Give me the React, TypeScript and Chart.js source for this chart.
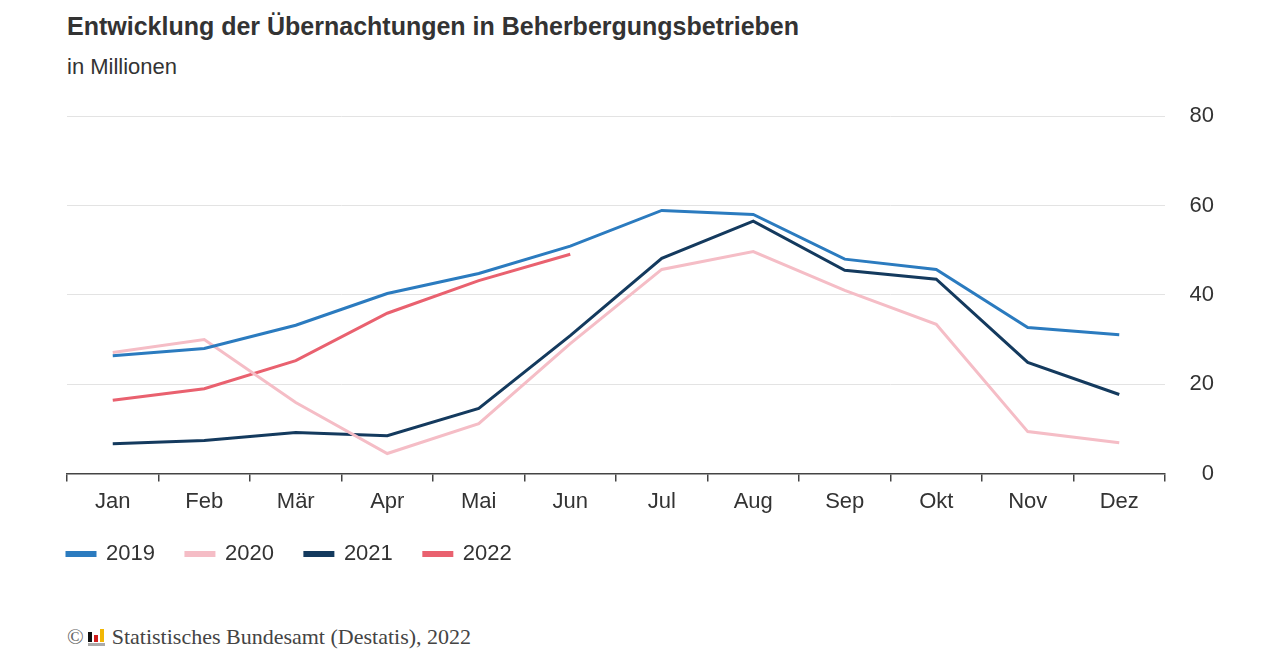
import React, { useEffect, useRef } from "react";
import { Chart, registerables } from "chart.js";

Chart.register(...registerables);

const months = ["Jan", "Feb", "Mär", "Apr", "Mai", "Jun", "Jul", "Aug", "Sep", "Okt", "Nov", "Dez"];
const v2019 = [26.4, 28.0, 33.2, 40.3, 44.8, 50.9, 58.9, 58.0, 48.0, 45.7, 32.7, 31.1];
const v2020 = [27.1, 30.0, 15.9, 4.5, 11.2, 29.1, 45.7, 49.7, 41.0, 33.4, 9.4, 6.9];
const v2021 = [6.7, 7.4, 9.2, 8.5, 14.6, 30.9, 48.2, 56.5, 45.5, 43.5, 24.9, 17.7];
const v2022 = [16.4, 19.0, 25.3, 35.9, 43.2, 49.1];
const yTicks = [0, 20, 40, 60, 80];

const FONT = "'Liberation Sans', Arial, Helvetica, sans-serif";
const TEXT = "#333333";

const legendShift = {
  id: "legendShift",
  afterLayout(chart: any) {
    const lg = chart.legend;
    if (lg) {
      const pad = lg.options.labels.padding;
      lg.left -= pad;
      lg.right -= pad;
      lg.top -= 10;
      lg.bottom -= 10;
    }
  },
};

export default function App() {
  const ref = useRef<HTMLCanvasElement | null>(null);
  useEffect(() => {
    if (!ref.current) return;
    const mk = (label: string, data: number[], color: string) => ({
      label,
      data,
      borderColor: color,
      backgroundColor: color,
      borderWidth: 3,
      pointRadius: 0,
      tension: 0,
      fill: false,
    });
    const chart = new Chart(ref.current, {
      type: "line",
      data: {
        labels: months,
        datasets: [
          mk("2019", v2019, "#2b7bbf"),
          mk("2020", v2020, "#f5bdc6"),
          mk("2021", v2021, "#143a5e"),
          mk("2022", v2022, "#e9616f"),
        ],
      },
      options: {
        animation: false,
        responsive: false,
        maintainAspectRatio: false,
        layout: { padding: { left: 67, right: 66, top: 6, bottom: 0 } },
        scales: {
          x: {
            offset: true,
            grid: {
              display: true,
              drawOnChartArea: false,
              drawTicks: true,
              tickLength: 8,
              color: "#444444",
              lineWidth: 1.5,
              offset: true,
            },
            border: { display: true, color: "#444444", width: 1.5 },
            ticks: { color: TEXT, font: { family: FONT, size: 22 }, padding: 7 },
          },
          y: {
            position: "right",
            min: 0,
            max: 80,
            afterBuildTicks: (s: any) => {
              s.ticks = yTicks.map((v) => ({ value: v }));
            },
            afterFit: (s: any) => {
              s.width = 49;
            },
            grid: { color: "#e3e3e3", lineWidth: 1, drawTicks: false },
            border: { display: false },
            ticks: {
              color: TEXT,
              font: { family: FONT, size: 22 },
              padding: 0,
              crossAlign: "far",
            },
          },
        },
        plugins: {
          legend: {
            position: "bottom",
            align: "start",
            labels: {
              boxWidth: 28,
              boxHeight: 3,
              padding: 31,
              color: TEXT,
              font: { family: FONT, size: 22 },
            },
          },
          tooltip: { enabled: false },
        },
      },
      plugins: [legendShift],
    });
    return () => chart.destroy();
  }, []);

  return (
    <div style={{ position: "absolute", left: 0, top: 0, width: 1280, height: 669, background: "#fff", fontFamily: FONT, color: TEXT }}>
      <div style={{ position: "absolute", left: 67, top: 12, fontSize: 25, fontWeight: 700, whiteSpace: "nowrap" }}>
        Entwicklung der Übernachtungen in Beherbergungsbetrieben
      </div>
      <div style={{ position: "absolute", left: 67, top: 54, fontSize: 22, whiteSpace: "nowrap" }}>in Millionen</div>
      <canvas ref={ref} width={1280} height={482} style={{ position: "absolute", left: 0, top: 103, width: 1280, height: 482 }} />
      <div style={{ position: "absolute", left: 67, top: 624, fontFamily: "'Liberation Serif', 'Times New Roman', serif", fontSize: 22, color: "#444", whiteSpace: "nowrap", display: "flex", alignItems: "center" }}>
        <span style={{ fontSize: 22, color: "#666" }}>©</span>
        <span style={{ display: "inline-flex", flexDirection: "column", marginLeft: 4, marginRight: 7 }}>
          <span style={{ display: "flex", alignItems: "flex-end", gap: 2, height: 13 }}>
            <span style={{ width: 4, height: 10, background: "#111" }} />
            <span style={{ width: 4, height: 7, background: "#d01c1c" }} />
            <span style={{ width: 4, height: 13, background: "#f2b705" }} />
          </span>
          <span style={{ width: 17, height: 3, background: "#aaa", marginTop: 1 }} />
        </span>
        <span>Statistisches Bundesamt (Destatis), 2022</span>
      </div>
    </div>
  );
}
